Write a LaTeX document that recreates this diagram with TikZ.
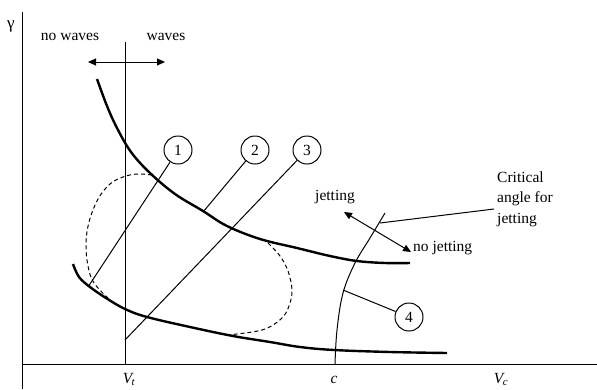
\documentclass[tikz,border=0pt]{standalone}
\usepackage{fontspec}
\setmainfont{Liberation Serif}
\usetikzlibrary{arrows.meta}
\begin{document}
\begin{tikzpicture}[x=1pt,y=-1pt,
  thin line/.style={line width=1pt},
  thick curve/.style={line width=2.4pt},
  dash line/.style={line width=1pt,dash pattern=on 4pt off 3pt},
  numcircle/.style={draw,circle,line width=1pt,minimum size=28pt,inner sep=0pt,font=\fontsize{15.5}{18}\selectfont},
  lbl/.style={inner sep=0pt,font=\fontsize{15.5}{20.5}\selectfont},
  dtri/.style={{Triangle[length=8pt,width=7pt]}-{Triangle[length=8pt,width=7pt]}}]
\useasboundingbox (0,0) rectangle (597,389);
% axes
\coordinate (yt) at (22,12);
\coordinate (yb) at (22,389);
\coordinate (xl) at (22,364);
\coordinate (xr) at (597,364);
\draw[thin line] (yt) -- (yb);
\draw[thin line] (xl) -- (xr);
\node[lbl,anchor=base,font=\fontsize{17}{20}\selectfont] (gamma) at (11,28) {γ};
% V_t line
\coordinate (vtt) at (125,42);
\coordinate (vtb) at (125,364);
\draw[thin line] (vtt) -- (vtb);
\node[lbl,anchor=base] (Vt) at (129,383) {\textit{V\kern-0.5pt\textsubscript{t}}};
\node[lbl,anchor=base] (c) at (334,383) {\textit{c}};
\node[lbl,anchor=base] (Vc) at (501,383) {\textit{V\kern-0.5pt\textsubscript{c}}};
% waves
\node[lbl] (nowaves) at (70,37) {no waves};
\node[lbl] (waves) at (166,37) {waves};
\coordinate (wl) at (88,62);
\coordinate (wr) at (165,62);
\draw[thin line,dtri] (wl) -- (wr);
% thick curves
\draw[thick curve] plot[smooth,tension=0.6] coordinates {(97,79) (107,106) (117,128) (131,152) (150,173) (175,194) (203,211) (227,226) (260,239) (297,248) (330,256) (357,261) (385,263) (410,263)};
\draw[thick curve] plot[smooth,tension=0.6] coordinates {(73,264) (79,277) (90,287) (106,298) (125,309) (147,317) (190,327) (233,336) (270,342) (300,347) (334,350) (390,352) (447,353)};
% dashed region boundaries
\draw[dash line] plot[smooth,tension=0.6] coordinates {(152,175) (137,174) (123,177) (110,184) (98,199) (89,222) (86,244) (88,266) (94,283) (110,300)};
\draw[dash line] plot[smooth,tension=0.6] coordinates {(268,243) (280,256) (288,271) (292,290) (289,306) (281,319) (262,330) (227,335)};
% critical angle arc
\draw[thin line] plot[smooth,tension=0.6] coordinates {(335,364) (337,330) (343,293) (355,263) (370,238) (385,213)};
% numbered circles
\node[numcircle] (c1) at (178,150) {1};
\node[numcircle] (c2) at (255,150) {2};
\node[numcircle] (c3) at (307,150) {3};
\node[numcircle] (c4) at (409,317) {4};
\coordinate (p1) at (88,287);
\coordinate (p2) at (203,212);
\coordinate (p3) at (125,340);
\coordinate (p4) at (343,290);
\draw[thin line] (c1) -- (p1);
\draw[thin line] (c2) -- (p2);
\draw[thin line] (c3) -- (p3);
\draw[thin line] (c4) -- (p4);
% jetting
\node[lbl] (jet) at (335,197) {jetting};
\node[lbl,anchor=west] (nojet) at (413,248) {no jetting};
\coordinate (ja) at (344,212);
\coordinate (jb) at (411,252);
\draw[thin line,dtri] (ja) -- (jb);
\node[lbl,anchor=west,align=left] (crit) at (497,199) {Critical\\angle for\\jetting};
\coordinate (ca) at (380,223);
\coordinate (cb) at (494,209);
\draw[thin line] (ca) -- (cb);
\end{tikzpicture}
\end{document}
